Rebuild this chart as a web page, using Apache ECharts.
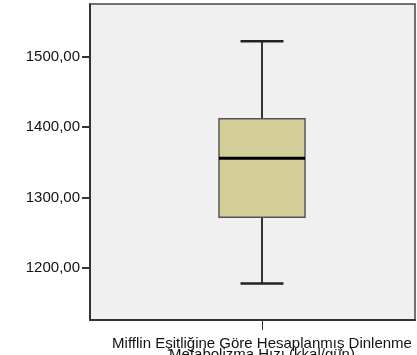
<!DOCTYPE html>
<html>
<head>
<meta charset="utf-8">
<script src="https://cdn.jsdelivr.net/npm/echarts@6/dist/echarts.min.js"></script>
<style>html,body{margin:0;padding:0;background:#fff;}#c{width:417px;height:355px;}</style>
</head>
<body>
<div id="c"></div>
<script>
const categories = ['Mifflin Eşitliğine Göre Hesaplanmış Dinlenme\nMetabolizma Hızı (kkal/gün)'];
// [min, Q1, median, Q3, max]
const boxValues = [[1178, 1272, 1356, 1412, 1522]];
const yTicks = [1200, 1300, 1400, 1500];
const yMin = 1126, yMax = 1575;

const chart = echarts.init(document.getElementById('c'), null, {renderer: 'canvas'});
const font = 'Arial, "Liberation Sans", sans-serif';
chart.setOption({
  animation: false,
  grid: [
    {left: 90, width: 325, top: 4, bottom: 35, show: true, backgroundColor: '#f0f0f0', borderColor: '#444', borderWidth: 1.5, containLabel: false, outerBoundsMode: 'none'},
    {left: 90, width: 344, top: 4, bottom: 35, containLabel: false, outerBoundsMode: 'none'}
  ],
  xAxis: [
    {gridIndex: 0, type: 'category', data: [''], axisLine: {show: true, lineStyle: {color: '#333', width: 2}}, axisTick: {show: false}, axisLabel: {show: false}},
    {gridIndex: 1, type: 'category', data: categories, axisLine: {show: false},
      axisTick: {show: true, alignWithLabel: true, length: 10, lineStyle: {color: '#333', width: 1}},
      axisLabel: {show: true, interval: 0, margin: 19, fontFamily: font, fontSize: 15, lineHeight: 10.5, color: '#111', align: 'center', hideOverlap: false}}
  ],
  yAxis: [
    {gridIndex: 0, type: 'value', min: yMin, max: yMax, splitLine: {show: false},
      axisLine: {show: true, lineStyle: {color: '#333', width: 2}},
      axisTick: {show: true, length: 8, lineStyle: {color: '#333', width: 2}, customValues: yTicks},
      axisLabel: {show: true, margin: 10, fontFamily: font, fontSize: 15, color: '#111', customValues: yTicks,
        formatter: v => v.toFixed(2).replace('.', ',')}},
    {gridIndex: 1, type: 'value', min: yMin, max: yMax, show: false, splitLine: {show: false}}
  ],
  series: [{
    type: 'custom',
    xAxisIndex: 1, yAxisIndex: 1,
    data: boxValues.map((v, i) => [i].concat(v)),
    renderItem: function (params, api) {
      const x = api.value(0);
      const pMin = api.coord([x, api.value(1)]);
      const pQ1 = api.coord([x, api.value(2)]);
      const pMed = api.coord([x, api.value(3)]);
      const pQ3 = api.coord([x, api.value(4)]);
      const pMax = api.coord([x, api.value(5)]);
      const band = api.size([1, 0])[0];
      const hb = band * 0.125, hc = band * 0.0625;
      const cx = pMed[0];
      const ls = {stroke: '#333', lineWidth: 2};
      return {type: 'group', children: [
        {type: 'line', shape: {x1: cx, y1: pMax[1], x2: cx, y2: pQ3[1]}, style: ls},
        {type: 'line', shape: {x1: cx, y1: pQ1[1], x2: cx, y2: pMin[1]}, style: ls},
        {type: 'line', shape: {x1: cx - hc, y1: pMax[1], x2: cx + hc, y2: pMax[1]}, style: {stroke: '#222', lineWidth: 2.5}},
        {type: 'line', shape: {x1: cx - hc, y1: pMin[1], x2: cx + hc, y2: pMin[1]}, style: {stroke: '#222', lineWidth: 2.5}},
        {type: 'rect', shape: {x: cx - hb, y: pQ3[1], width: 2 * hb, height: pQ1[1] - pQ3[1]}, style: {fill: '#d3ce97', stroke: '#555', lineWidth: 1.5}},
        {type: 'line', shape: {x1: cx - hb, y1: pMed[1], x2: cx + hb, y2: pMed[1]}, style: {stroke: '#000', lineWidth: 3}}
      ]};
    }
  }]
});
</script>
</body>
</html>
